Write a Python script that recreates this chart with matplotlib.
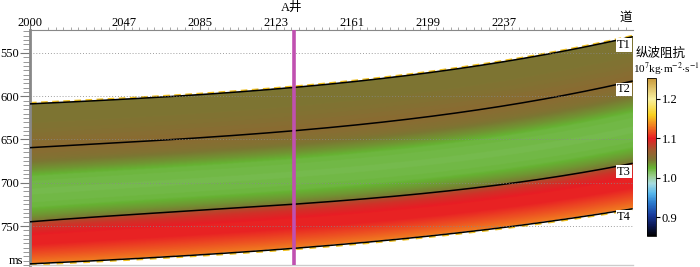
import numpy as np
import matplotlib
matplotlib.use("Agg")
import matplotlib.pyplot as plt
from matplotlib.colors import LinearSegmentedColormap
from matplotlib.ticker import FixedLocator, MultipleLocator

plt.rcParams['font.family'] = ['Liberation Serif', 'Noto Sans CJK SC', 'DejaVu Sans']
plt.rcParams['mathtext.fontset'] = 'stix'

# horizon picks (trace, time in ms)
trace_pts = [2000, 2050, 2100, 2135, 2195, 2255, 2301]
t1 = [608.6, 604.0, 595.0, 588.7, 575.3, 552.3, 531.6]
t2 = [659.5, 653.0, 645.4, 639.0, 626.0, 603.0, 583.0]
t3 = [745.0, 737.0, 730.0, 723.6, 713.0, 696.0, 677.6]
t4 = [793.7, 788.0, 781.0, 774.5, 764.0, 745.0, 730.5]
horizon_names = ["T1", "T2", "T3", "T4"]

# impedance profiles inside each interval (relative position, value)
prof1_pos = [0.0, 0.5, 1.0]
prof1_val = [1.046, 1.048, 1.056]
prof2_pos = [0.0, 0.15, 0.3, 0.4, 0.6, 0.8, 0.92, 1.0]
prof2_val = [1.056, 1.050, 1.035, 1.022, 1.019, 1.022, 1.035, 1.046]
prof3_pos = [0.0, 0.15, 0.35, 0.55, 0.8, 1.0]
prof3_val = [1.074, 1.090, 1.102, 1.102, 1.118, 1.132]

well_trace = 2132
well_name = "A井"
xtick_vals = [2000, 2047, 2085, 2123, 2161, 2199, 2237]
ytick_vals = [550, 600, 650, 700, 750]
cbar_ticks = [0.9, 1.0, 1.1, 1.2]
vmin, vmax = 0.852, 1.253

cmap_stops = [
    (0.852, "#000000"), (0.880, "#0c1a5a"), (0.905, "#1a3c9c"), (0.935, "#2a78cc"),
    (0.960, "#58b8ec"), (0.985, "#a8dce0"), (1.005, "#98cc88"), (1.025, "#66b232"),
    (1.045, "#7b7733"), (1.070, "#a05a30"), (1.100, "#e81c24"), (1.130, "#f07820"),
    (1.160, "#f8d020"), (1.200, "#f8f0a0"), (1.253, "#c89838"),
]
cmap = LinearSegmentedColormap.from_list(
    "imp", [((v - vmin) / (vmax - vmin), c) for v, c in cmap_stops])
cmap.set_bad((1, 1, 1, 0))

# smooth horizons through the picks
traces = np.arange(2000, 2302)
times = np.arange(523.0, 795.5, 0.5)
h = [np.polyval(np.polyfit(trace_pts, hz, 3), traces) for hz in (t1, t2, t3, t4)]

# build the section
field = np.full((times.size, traces.size), np.nan)
profiles = [(prof1_pos, prof1_val), (prof2_pos, prof2_val), (prof3_pos, prof3_val)]
for j in range(traces.size):
    for k, (pp, pv) in enumerate(profiles):
        top, bot = h[k][j], h[k + 1][j]
        sel = (times >= top) & (times <= bot)
        field[sel, j] = np.interp((times[sel] - top) / (bot - top), pp, pv)
field = np.ma.masked_invalid(field)

fig = plt.figure(figsize=(7, 2.67), dpi=100)
ax = fig.add_axes([30 / 700, 2 / 267, 603 / 700, 235 / 267])
ax.imshow(field, cmap=cmap, vmin=vmin, vmax=vmax, aspect='auto', interpolation='bilinear',
          extent=[traces[0] - 0.5, traces[-1] + 0.5, times[-1], times[0]], zorder=1)

# gold speckle rims on top and bottom horizons
ax.plot(traces, h[0] - 1.0, color="#f0c020", lw=1.6, dashes=(3, 2), zorder=2)
ax.plot(traces, h[3] + 1.0, color="#f0c020", lw=1.6, dashes=(3, 3), zorder=2)
for hz, name in zip(h, horizon_names):
    ax.plot(traces, hz, color="black", lw=1.1, zorder=3)
    ax.text(traces[-1] - 0.5, hz[-1] + 2.5, name, ha='right', va='top', fontsize=9,
            bbox=dict(facecolor='white', edgecolor='none', pad=0.5), zorder=5)

for yv in ytick_vals:
    ax.axhline(yv, color="#888888", lw=0.7, ls=(0, (1, 2)), alpha=0.8, zorder=4)

ax.axvline(well_trace, color="#c050b0", lw=2.6, zorder=6)

ax.set_xlim(2000, 2301.5)
ax.set_ylim(795, 523.5)
ax.xaxis.tick_top()
ax.xaxis.set_major_locator(FixedLocator(xtick_vals))
ax.set_xticklabels([str(v) for v in xtick_vals])
ax.xaxis.set_minor_locator(FixedLocator(np.arange(2009, 2300, 3.8)))
ax.tick_params(axis='x', which='major', length=4, width=0.8, color="#777777", pad=-3, labelsize=9)
ax.tick_params(axis='x', which='minor', length=2, width=0.6, color="#999999")
ax.set_yticks(ytick_vals)
ax.yaxis.set_minor_locator(MultipleLocator(5))
ax.tick_params(axis='y', which='major', length=7, width=0.8, color="#777777", pad=1, labelsize=9)
ax.tick_params(axis='y', which='minor', length=5, width=0.6, color="#888888")
ax.spines['right'].set_visible(False)
ax.spines['top'].set_color("#888888")
ax.spines['left'].set_color("#888888")
ax.spines['left'].set_linewidth(2.0)
ax.spines['bottom'].set_color("#cccccc")
ax.spines['bottom'].set_linewidth(1.0)

ax.text(-0.012, 790, "ms", transform=ax.get_yaxis_transform(), ha='right', va='center', fontsize=9)
ax.text(2298, 1 + 6 / 235, "道", transform=ax.get_xaxis_transform(), ha='center', va='bottom',
        fontsize=9, family=['Noto Sans CJK SC'])
ax.text(well_trace - 1, 1 + 16 / 235, well_name, transform=ax.get_xaxis_transform(), ha='center',
        va='bottom', fontsize=9)

cax = fig.add_axes([647 / 700, 31 / 267, 9 / 700, 158 / 267])
sm = plt.cm.ScalarMappable(cmap=cmap, norm=plt.Normalize(vmin, vmax))
cb = fig.colorbar(sm, cax=cax, ticks=cbar_ticks)
cb.ax.set_yticklabels(["0.9", "1.0", "1.1", "1.2"])
cb.ax.tick_params(length=3, width=0.8, labelsize=9, pad=1)
cb.outline.set_linewidth(0.6)
fig.text(661 / 700, 1 - 53 / 267, "纵波阻抗", ha='center', va='center', fontsize=9,
         family=['Noto Sans CJK SC'])
fig.text(666 / 700, 1 - 69 / 267, r"10$^{7}$kg$\cdot$m$^{-2}$$\cdot$s$^{-1}$", ha='center',
         va='center', fontsize=8)

fig.savefig("out.png", dpi=100)
